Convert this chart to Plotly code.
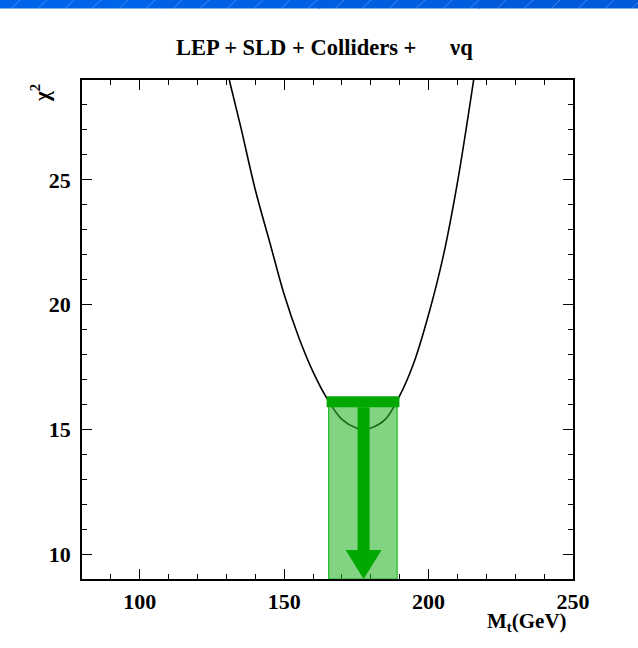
import plotly.graph_objects as go

# ---------------- data ----------------
mt_values = [131.0, 135.0, 140.0, 145.0, 150.0, 155.0, 160.0, 165.0, 170.0, 175.0,
             177.5, 180.0, 185.0, 190.0, 195.0, 200.0, 205.0, 210.0, 215.6]
chi2_values = [29.0, 27.1, 24.6, 22.5, 20.4, 18.7, 17.3, 16.2, 15.4, 15.05,
               15.0, 15.05, 15.4, 16.35, 17.7, 19.6, 21.9, 24.9, 29.0]

mt_central = 177.5          # best-fit value (arrow position)
band_low = 165.4            # 1-sigma band edges
band_high = 189.1
band_top_chi2 = 16.0
bar_chi2 = 16.1
bar_low = 164.7
bar_high = 189.9

x_range = [80, 250]
y_range = [9, 29]
x_ticks = [100, 150, 200, 250]
y_ticks = [10, 15, 20, 25]

title_text = "LEP + SLD + Colliders +\u00a0\u00a0\u00a0\u00a0\u00a0\u00a0νq"
x_title = "M<sub>t</sub>(GeV)"
y_title = "χ<sup>2</sup>"

# ---------------- layout geometry ----------------
W, H = 638, 648
ML, MR, MT, MB = 82, 65, 80, 69
PW, PH = W - ML - MR, H - MT - MB

def px_x(p):  # pixel -> paper x
    return (p - ML) / PW

def px_y(p):  # pixel -> paper y
    return (H - MB - p) / PH

xs_per_px = (x_range[1] - x_range[0]) / PW
ys_per_px = (y_range[1] - y_range[0]) / PH

GREEN = "#00a800"
FONT = "Liberation Serif"

fig = go.Figure()

fig.add_trace(go.Scatter(
    x=mt_values, y=chi2_values, mode="lines",
    line=dict(color="black", width=1.6, shape="spline", smoothing=1.0),
    hoverinfo="skip", showlegend=False))

shapes = []
# 1-sigma band
shapes.append(dict(type="rect", xref="x", yref="y",
                   x0=band_low, x1=band_high, y0=y_range[0], y1=band_top_chi2,
                   fillcolor="rgba(40,180,40,0.58)", line=dict(color="#1fb81f", width=1.2),
                   layer="above"))
# horizontal bar
shapes.append(dict(type="line", xref="x", yref="y",
                   x0=bar_low, x1=bar_high, y0=bar_chi2, y1=bar_chi2,
                   line=dict(color=GREEN, width=11), layer="above"))
# arrow shaft + head
shaft_half = 6 * xs_per_px
head_half = 18 * xs_per_px
head_len = 29 * ys_per_px
shaft_top = bar_chi2 - 5.5 * ys_per_px
head_base = y_range[0] + head_len
shapes.append(dict(type="rect", xref="x", yref="y",
                   x0=mt_central - shaft_half, x1=mt_central + shaft_half,
                   y0=head_base, y1=shaft_top,
                   fillcolor=GREEN, line=dict(width=0), layer="above"))
shapes.append(dict(type="path", xref="x", yref="y",
                   path=f"M {mt_central - head_half} {head_base} L {mt_central + head_half} {head_base} L {mt_central} {y_range[0]} Z",
                   fillcolor=GREEN, line=dict(width=0), layer="above"))

# blue banner at top of page (gradient approximated by strips)
blues = ["#0064ea", "#0061e5", "#005edf", "#005ada"]
n = len(blues)
for i, c in enumerate(blues):
    shapes.append(dict(type="rect", xref="paper", yref="paper",
                       x0=px_x(W * i / n), x1=px_x(W * (i + 1) / n + 1),
                       y0=px_y(8.5), y1=px_y(0),
                       fillcolor=c, line=dict(width=0), layer="above"))
for k in range(0, 24):
    x0p = 11 + 27 * k
    shapes.append(dict(type="line", xref="paper", yref="paper",
                       x0=px_x(x0p), x1=px_x(x0p + 9), y0=px_y(8.5), y1=px_y(0),
                       line=dict(color="rgba(120,170,255,0.55)", width=1), layer="above"))

annotations = [
    dict(text=title_text, x=px_x(324), y=px_y(47), xref="paper", yref="paper",
         showarrow=False, xanchor="center", yanchor="middle",
         font=dict(family=FONT, size=22.5, color="black", weight="bold")),
    dict(text=x_title, x=px_x(569), y=px_y(622), xref="paper", yref="paper",
         showarrow=False, xanchor="right", yanchor="middle",
         font=dict(family=FONT, size=21, color="black", weight="bold")),
    dict(text=y_title, x=px_x(40), y=px_y(93), xref="paper", yref="paper",
         showarrow=False, xanchor="center", yanchor="middle", textangle=-90,
         font=dict(family=FONT, size=21, color="black", weight="bold")),
]

axis_common = dict(showgrid=False, zeroline=False, showline=True, linecolor="black",
                   linewidth=1.5, mirror="allticks", ticks="inside", ticklen=10,
                   tickwidth=1.3, tickcolor="black",
                   tickfont=dict(family=FONT, size=22, color="black", weight="bold"))

fig.update_layout(
    width=W, height=H,
    margin=dict(l=ML, r=MR, t=MT, b=MB, pad=0),
    paper_bgcolor="white", plot_bgcolor="white",
    showlegend=False,
    shapes=shapes, annotations=annotations,
    xaxis=dict(range=x_range, tickmode="array", tickvals=x_ticks,
               ticktext=[str(v) for v in x_ticks], ticklabelstandoff=2,
               minor=dict(dtick=10, tick0=0, ticks="inside", ticklen=5, tickcolor="black", tickwidth=1.2),
               **axis_common),
    yaxis=dict(range=y_range, tickmode="array", tickvals=y_ticks,
               ticktext=[str(v) for v in y_ticks], ticklabelstandoff=5,
               minor=dict(dtick=1, tick0=0, ticks="inside", ticklen=5, tickcolor="black", tickwidth=1.2),
               **axis_common),
)

fig.write_html("out.html")
